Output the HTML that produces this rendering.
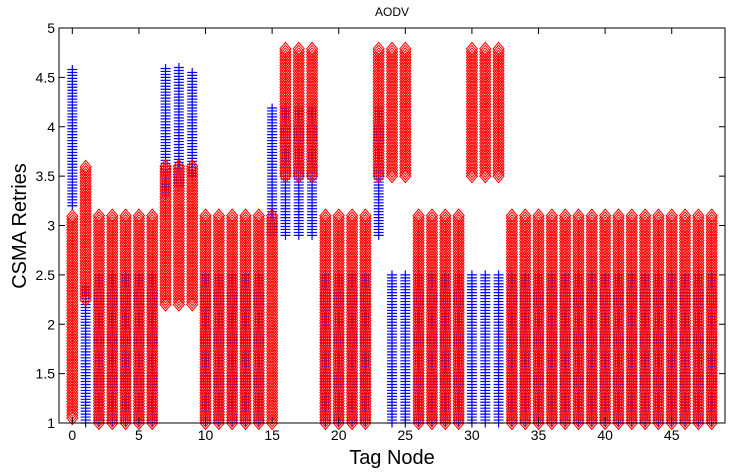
<!DOCTYPE html>
<html><head><meta charset="utf-8"><style>
body{margin:0;background:#fff;}
svg{display:block;font-family:"Liberation Sans",sans-serif;}
</style></head><body>
<svg id="chart" width="736" height="474">
<text x="392" y="16" text-anchor="middle" font-size="12">AODV</text>
<text transform="translate(26,226) rotate(-90)" text-anchor="middle" font-size="20">CSMA Retries</text>
<text x="392" y="464" text-anchor="middle" font-size="20">Tag Node</text>
<g id="marks"></g>
<g id="axes"></g>
</svg>
<script>
const nodes = [];
for (let i = 0; i <= 48; i++) nodes.push(i);
const blueLo = [3.2,1,1,1,1,1,1,3.3,3.4,3.5,1,1,1,1,1,2.9,2.9,2.9,2.9,1,1,1,1,2.9,1,1,1,1,1,1,1,1,1,1,1,1,1,1,1,1,1,1,1,1,1,1,1,1,1];
const blueHi = [4.6,2.4,2.5,2.5,2.5,2.5,2.5,4.6,4.6,4.55,2.5,2.5,2.5,2.5,2.5,4.2,4.2,4.2,4.2,2.5,2.5,2.5,2.5,4.2,2.5,2.5,2.5,2.5,2.5,2.5,2.5,2.5,2.5,2.5,2.5,2.5,2.5,2.5,2.5,2.5,2.5,2.5,2.5,2.5,2.5,2.5,2.5,2.5,2.5];
const redLo = [1.05,2.25,1,1,1,1,1,2.2,2.2,2.2,1,1,1,1,1,1,3.5,3.5,3.5,1,1,1,1,3.5,3.5,3.5,1,1,1,1,3.5,3.5,3.5,1,1,1,1,1,1,1,1,1,1,1,1,1,1,1,1];
const redHi = [3.1,3.6,3.1,3.1,3.1,3.1,3.1,3.6,3.6,3.6,3.1,3.1,3.1,3.1,3.1,3.1,4.8,4.8,4.8,3.1,3.1,3.1,3.1,4.8,4.8,4.8,3.1,3.1,3.1,3.1,4.8,4.8,4.8,3.1,3.1,3.1,3.1,3.1,3.1,3.1,3.1,3.1,3.1,3.1,3.1,3.1,3.1,3.1,3.1];
const xTicks = [0,5,10,15,20,25,30,35,40,45];
const yTicks = [1,1.5,2,2.5,3,3.5,4,4.5,5];

const L=59,R=725,T=28,B=423, xMin=-1,xMax=49,yMin=1,yMax=5;
const xs = v => L + (v-xMin)/(xMax-xMin)*(R-L);
const ys = v => B - (v-yMin)/(yMax-yMin)*(B-T);
const NS='http://www.w3.org/2000/svg';
const marks=document.getElementById('marks');
const axes=document.getElementById('axes');

nodes.forEach((n,i)=>{
  const x=xs(n);
  let d='';
  for(let v=blueLo[i]; v<=blueHi[i]+1e-9; v+=0.03){
    const y=ys(v);
    d+=`M${x-5},${y}h10M${x},${y-4.5}v9`;
  }
  const p=document.createElementNS(NS,'path');
  p.setAttribute('d',d);p.setAttribute('stroke','#0000ff');p.setAttribute('stroke-width','1.2');p.setAttribute('fill','none');
  
  
  marks.appendChild(p);
});
nodes.forEach((n,i)=>{
  const x=xs(n);
  let d='';
  for(let v=redLo[i]; v<=redHi[i]+1e-9; v+=0.028){
    const y=ys(v);
    d+=`M${x},${y-6.5}L${x+5.5},${y}L${x},${y+6.5}L${x-5.5},${y}Z`;
  }
  const p=document.createElementNS(NS,'path');
  p.setAttribute('d',d);p.setAttribute('stroke','#ff0000');p.setAttribute('stroke-width','1');p.setAttribute('fill','none');
  
  
  marks.appendChild(p);
});

const box=document.createElementNS(NS,'rect');
box.setAttribute('x',L);box.setAttribute('y',T);box.setAttribute('width',R-L);box.setAttribute('height',B-T);
box.setAttribute('fill','none');box.setAttribute('stroke','#000');


axes.appendChild(box);

xTicks.forEach(t=>{
  const x=xs(t);
  const l=document.createElementNS(NS,'path');
  l.setAttribute('d',`M${x},${B}v-6M${x},${T}v6`);l.setAttribute('stroke','#000');
  
  
  axes.appendChild(l);
  const tx=document.createElementNS(NS,'text');
  tx.setAttribute('x',x);tx.setAttribute('y',B+17);tx.setAttribute('text-anchor','middle');tx.setAttribute('font-size','14');
  tx.textContent=t;
  
  
  axes.appendChild(tx);
});
yTicks.forEach(t=>{
  const y=ys(t);
  const l=document.createElementNS(NS,'path');
  l.setAttribute('d',`M${L},${y}h6M${R},${y}h-6`);l.setAttribute('stroke','#000');
  
  
  axes.appendChild(l);
  const tx=document.createElementNS(NS,'text');
  tx.setAttribute('x',L-4);tx.setAttribute('y',y+5);tx.setAttribute('text-anchor','end');tx.setAttribute('font-size','14');
  tx.textContent=t;
  
  
  axes.appendChild(tx);
});
</script>
</body></html>
